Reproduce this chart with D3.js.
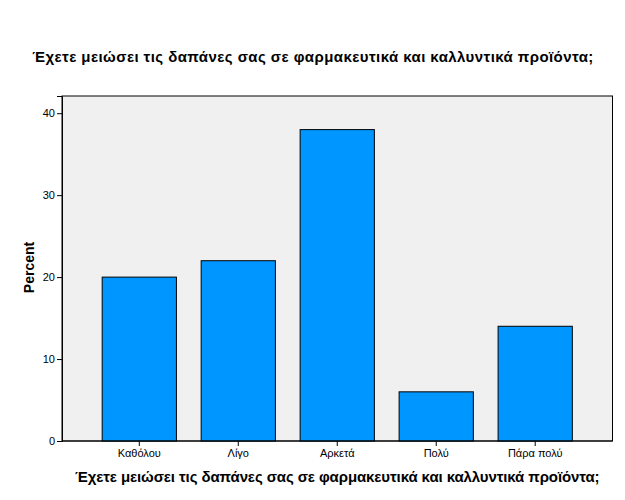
<!DOCTYPE html>
<html><head><meta charset="utf-8">
<script src="https://cdn.jsdelivr.net/npm/d3@7"></script>
<style>body{margin:0;background:#fff;} text{font-family:"Liberation Sans",Arial,sans-serif;}</style>
</head><body>
<svg id="c" width="625" height="500"></svg>
<script>
const categories = ["Καθόλου", "Λίγο", "Αρκετά", "Πολύ", "Πάρα πολύ"];
const percents = [20, 22, 38, 6, 14];
const yTicks = [0, 10, 20, 30, 40];
const titleText = "Έχετε μειώσει τις δαπάνες σας σε φαρμακευτικά και καλλυντικά προϊόντα;";

const svg = d3.select("#c");
const L = 62, R = 612.5, T = 96, B = 441;
const x = d3.scaleBand().domain(categories).range([L, R]).paddingInner(0.25).paddingOuter(0.406);
const y = d3.scaleLinear().domain([0, 42.1]).range([B, T]);

svg.append("text").attr("x", 313).attr("y", 62).attr("text-anchor", "middle")
  .attr("font-size", 15).attr("font-weight", "bold").attr("letter-spacing", 0.43).text(titleText);

svg.append("rect").attr("x", L).attr("y", T).attr("width", R - L).attr("height", B - T)
  .attr("fill", "#f0f0f0").attr("stroke", "#000").attr("stroke-width", 1);

svg.selectAll("rect.bar").data(percents).join("rect").attr("class", "bar")
  .attr("x", (d, i) => x(categories[i]))
  .attr("y", d => y(d))
  .attr("width", x.bandwidth())
  .attr("height", d => B - y(d))
  .attr("fill", "#0096ff").attr("stroke", "#000").attr("stroke-width", 1);

const ya = svg.append("g").attr("transform", `translate(${L},0)`)
  .call(d3.axisLeft(y).tickValues(yTicks).tickSize(5).tickPadding(2).tickFormat(d3.format("d")));
ya.select(".domain").attr("stroke", "#000");
ya.selectAll("text").attr("font-size", 11).attr("fill", "#000").style("font-family", '"Liberation Sans",Arial,sans-serif');

const xa = svg.append("g").attr("transform", `translate(0,${B})`)
  .call(d3.axisBottom(x).tickSize(5).tickPadding(3));
xa.select(".domain").remove();
xa.selectAll("text").attr("font-size", 11).attr("fill", "#000").style("font-family", '"Liberation Sans",Arial,sans-serif');

svg.append("line").attr("x1", L).attr("x2", R).attr("y1", B).attr("y2", B).attr("stroke", "#000");

svg.append("text").attr("x", (L + R) / 2).attr("y", 482).attr("text-anchor", "middle")
  .attr("font-size", 15).attr("font-weight", "bold").attr("letter-spacing", -0.1).text(titleText);

svg.append("text").attr("transform", `translate(34,${(T + B) / 2 - 1}) rotate(-90)`).attr("text-anchor", "middle")
  .attr("font-size", 14).attr("font-weight", "bold").text("Percent");
</script>
</body></html>
